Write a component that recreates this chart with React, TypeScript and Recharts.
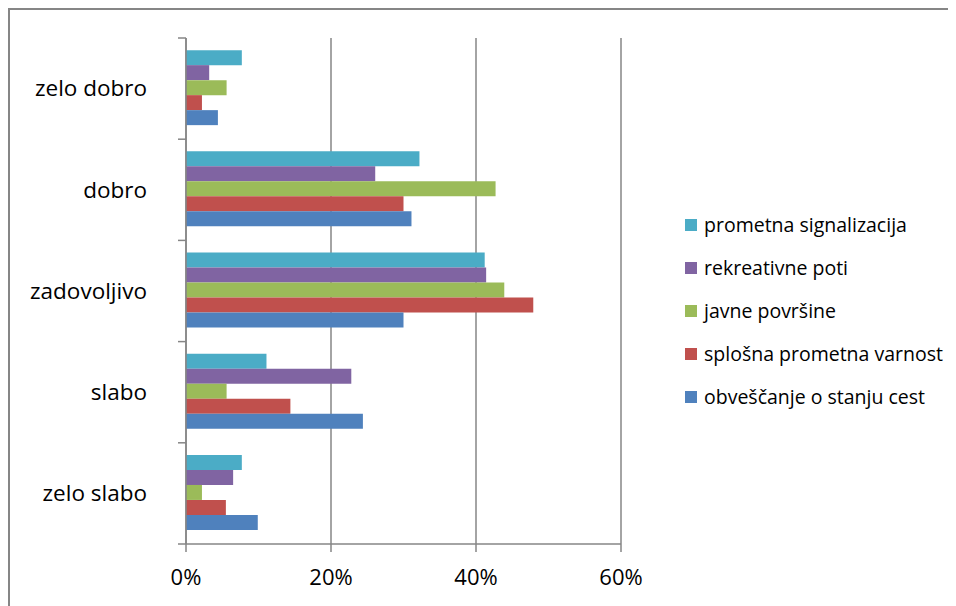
import { BarChart, Bar, XAxis, YAxis, CartesianGrid } from 'recharts';

const categories = ['zelo dobro', 'dobro', 'zadovoljivo', 'slabo', 'zelo slabo'];
const signalizacija = [7.7, 32.2, 41.2, 11.1, 7.7];
const rekreativnePoti = [3.2, 26.1, 41.4, 22.8, 6.5];
const javnePovrsine = [5.6, 42.7, 43.9, 5.6, 2.2];
const prometnaVarnost = [2.2, 30.0, 47.9, 14.4, 5.5];
const stanjeCest = [4.4, 31.1, 30.0, 24.4, 9.9];
const xTicks = [0, 20, 40, 60];

const series = [
  { key: 'signalizacija', name: 'prometna signalizacija', color: '#4BACC6', values: signalizacija },
  { key: 'rekreativne', name: 'rekreativne poti', color: '#8064A2', values: rekreativnePoti },
  { key: 'javne', name: 'javne površine', color: '#9BBB59', values: javnePovrsine },
  { key: 'varnost', name: 'splošna prometna varnost', color: '#C0504D', values: prometnaVarnost },
  { key: 'ceste', name: 'obveščanje o stanju cest', color: '#4F81BD', values: stanjeCest },
];

const data = categories.map((cat, i) => {
  const row: Record<string, string | number> = { cat };
  series.forEach((s) => (row[s.key] = s.values[i]));
  return row;
});

const FONT = '"Open Sans", Lato, sans-serif';
const GRAY = '#868686';
const PLOT_H = 506;
const HALF_BAND = PLOT_H / categories.length / 2;
const TICK_SIZE = 8;
const TICK_MARGIN = 31;

// category label plus the tick marks between categories
function CategoryTick(props: any) {
  const { x, y, payload, index } = props;
  const x1 = x + TICK_MARGIN;
  const x2 = x1 + TICK_SIZE;
  return (
    <g>
      <line x1={x1} x2={x2} y1={y - HALF_BAND} y2={y - HALF_BAND} stroke={GRAY} strokeWidth={1.5} />
      {index === categories.length - 1 && (
        <line x1={x1} x2={x2} y1={y + HALF_BAND} y2={y + HALF_BAND} stroke={GRAY} strokeWidth={1.5} />
      )}
      <text x={x} y={y} dy="0.35em" textAnchor="end" fill="#000" fontSize={22.5} fontFamily={FONT}>
        {payload.value}
      </text>
    </g>
  );
}

function SeriesLegend() {
  return (
    <div
      style={{
        position: 'absolute',
        left: 675,
        top: 193,
        fontFamily: FONT,
        fontSize: 19.5,
        color: '#000',
      }}
    >
      {series.map((s) => (
        <div key={s.key} style={{ display: 'flex', alignItems: 'center', height: 43 }}>
          <span style={{ width: 12, height: 12, background: s.color, marginRight: 7, flexShrink: 0 }} />
          <span style={{ whiteSpace: 'nowrap' }}>{s.name}</span>
        </div>
      ))}
    </div>
  );
}

export default function App() {
  return (
    <div
      style={{
        position: 'relative',
        borderTop: `2px solid ${GRAY}`,
        borderLeft: `2px solid ${GRAY}`,
        width: 946,
        height: 596,
      }}
    >
      <BarChart
        width={946}
        height={596}
        data={data}
        layout="vertical"
        margin={{ top: 28, right: 335, bottom: 0, left: 0 }}
        barCategoryGap="12%"
        barGap={0}
      >
        <CartesianGrid horizontal={false} stroke={GRAY} strokeWidth={1.5} />
        <XAxis
          type="number"
          domain={[0, 60]}
          ticks={xTicks}
          tickFormatter={(v) => `${v}%`}
          height={62}
          tickSize={TICK_SIZE}
          tickMargin={17}
          axisLine={{ stroke: GRAY, strokeWidth: 1.5 }}
          tickLine={{ stroke: GRAY, strokeWidth: 1.5 }}
          tick={{ fill: '#000', fontSize: 22, fontFamily: FONT }}
        />
        <YAxis
          type="category"
          dataKey="cat"
          width={176}
          tickSize={TICK_SIZE}
          tickMargin={TICK_MARGIN}
          axisLine={{ stroke: GRAY, strokeWidth: 1.5 }}
          tickLine={false}
          tick={<CategoryTick />}
        />
        {series.map((s) => (
          <Bar key={s.key} dataKey={s.key} name={s.name} fill={s.color} isAnimationActive={false} />
        ))}
      </BarChart>
      <SeriesLegend />
    </div>
  );
}
